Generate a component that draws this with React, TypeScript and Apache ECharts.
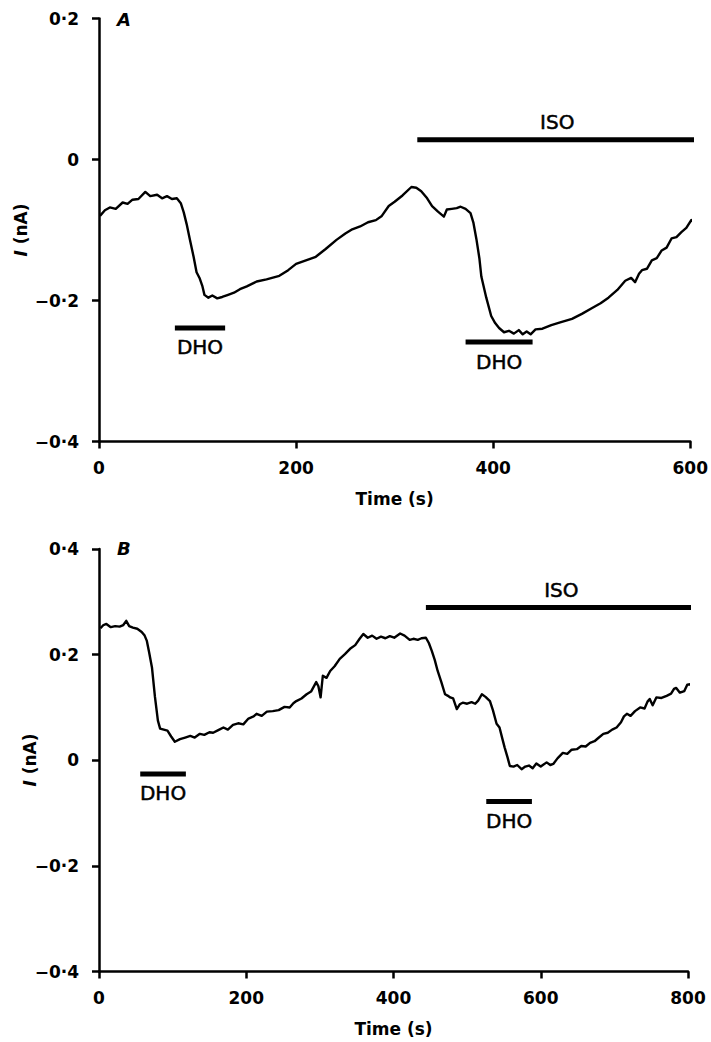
import React, { useEffect, useRef } from "react";
import * as echarts from "echarts";

// ---------- Panel A data ----------
const timeA = [1, 6, 11, 17, 24, 29, 34, 40, 47, 52, 59, 64, 69, 74, 79, 83, 86, 89, 92, 96, 99, 102, 105, 107, 111, 115, 120, 125, 131, 137, 143, 150, 160, 170, 183, 192, 200, 210, 220, 230, 241, 250, 257, 265, 273, 281, 287, 294, 300, 308, 317, 322, 327, 333, 338, 344, 350, 353, 358, 363, 367, 372, 377, 380, 383, 386, 388, 393, 398, 402, 406, 411, 416, 421, 426, 430, 434, 438, 443, 450, 459, 468, 480, 490, 500, 509, 517, 526, 534, 540, 544, 548, 551, 556, 561, 566, 571, 576, 581, 586, 591, 596, 601, 605, 607];
const currentA = [-0.080, -0.072, -0.068, -0.070, -0.061, -0.063, -0.057, -0.056, -0.046, -0.052, -0.050, -0.055, -0.052, -0.056, -0.055, -0.062, -0.075, -0.092, -0.112, -0.138, -0.160, -0.168, -0.180, -0.192, -0.196, -0.193, -0.197, -0.195, -0.192, -0.189, -0.184, -0.180, -0.173, -0.170, -0.165, -0.157, -0.148, -0.143, -0.138, -0.127, -0.114, -0.105, -0.099, -0.095, -0.089, -0.086, -0.080, -0.066, -0.060, -0.051, -0.039, -0.040, -0.045, -0.055, -0.066, -0.074, -0.081, -0.071, -0.070, -0.069, -0.067, -0.070, -0.076, -0.090, -0.113, -0.140, -0.166, -0.196, -0.222, -0.232, -0.239, -0.245, -0.243, -0.247, -0.242, -0.248, -0.244, -0.248, -0.241, -0.240, -0.235, -0.231, -0.226, -0.219, -0.211, -0.204, -0.196, -0.185, -0.172, -0.168, -0.174, -0.162, -0.157, -0.155, -0.143, -0.140, -0.129, -0.125, -0.112, -0.110, -0.103, -0.097, -0.086, -0.090, -0.086];
// bars: [start, end, level]
const dhoBarsA = [[77, 128, -0.239], [372, 440, -0.259]];
const isoBarA = [323, 607, 0.028];

// ---------- Panel B data ----------
const timeB = [2, 6, 10, 16, 22, 28, 33, 37, 41, 46, 52, 58, 62, 65, 68, 72, 76, 80, 83, 88, 93, 98, 103, 110, 117, 124, 130, 137, 143, 150, 155, 162, 169, 175, 182, 189, 196, 203, 210, 214, 221, 228, 236, 244, 252, 259, 264, 268, 275, 282, 288, 295, 298, 301, 304, 309, 314, 320, 327, 334, 341, 348, 354, 359, 365, 371, 377, 383, 389, 395, 401, 409, 415, 422, 427, 433, 438, 444, 448, 452, 456, 460, 465, 470, 474, 477, 481, 486, 490, 494, 500, 506, 511, 515, 520, 525, 531, 535, 540, 544, 548, 551, 555, 558, 563, 568, 574, 579, 584, 589, 594, 600, 608, 613, 617, 623, 630, 636, 642, 649, 655, 661, 667, 673, 679, 685, 691, 697, 703, 709, 713, 717, 722, 728, 735, 741, 745, 748, 752, 757, 764, 771, 777, 781, 784, 789, 795, 799, 803, 807, 812, 816];
const currentB = [0.250, 0.256, 0.258, 0.252, 0.254, 0.253, 0.256, 0.264, 0.254, 0.251, 0.249, 0.243, 0.236, 0.226, 0.205, 0.175, 0.120, 0.075, 0.060, 0.058, 0.056, 0.045, 0.035, 0.040, 0.043, 0.046, 0.043, 0.050, 0.048, 0.053, 0.052, 0.057, 0.062, 0.058, 0.067, 0.070, 0.068, 0.079, 0.083, 0.088, 0.084, 0.092, 0.093, 0.095, 0.101, 0.100, 0.108, 0.112, 0.117, 0.125, 0.130, 0.148, 0.140, 0.119, 0.160, 0.156, 0.169, 0.178, 0.192, 0.201, 0.211, 0.218, 0.230, 0.239, 0.232, 0.236, 0.230, 0.234, 0.231, 0.235, 0.232, 0.240, 0.236, 0.228, 0.230, 0.228, 0.231, 0.232, 0.222, 0.207, 0.190, 0.169, 0.148, 0.125, 0.122, 0.119, 0.117, 0.097, 0.106, 0.109, 0.107, 0.110, 0.107, 0.113, 0.125, 0.120, 0.112, 0.095, 0.069, 0.062, 0.040, 0.024, 0.005, -0.011, -0.012, -0.009, -0.017, -0.012, -0.010, -0.015, -0.006, -0.012, -0.004, -0.009, -0.007, 0.004, 0.014, 0.012, 0.020, 0.021, 0.027, 0.026, 0.033, 0.036, 0.043, 0.050, 0.052, 0.058, 0.062, 0.072, 0.083, 0.088, 0.084, 0.093, 0.100, 0.098, 0.111, 0.116, 0.104, 0.119, 0.118, 0.122, 0.126, 0.135, 0.137, 0.128, 0.131, 0.143, 0.144, 0.136, 0.144, 0.141];
const dhoBarsB = [[56, 118, -0.026], [526, 588, -0.078]];
const isoBarB = [444, 812, 0.289];

// ---------- axis ticks [min, max, interval] ----------
const xTicksA = [0, 600, 200];
const xTicksB = [0, 800, 200];
const yTicksA = [-0.4, 0.2, 0.2];
const yTicksB = [-0.4, 0.4, 0.2];

const FONT = "DejaVu Sans";

const fmtY = (v: number) => {
  if (Math.abs(v) < 1e-9) return "0";
  const s = Math.abs(v).toFixed(1).replace(".", "\u00B7");
  return (v < 0 ? "\u2212" : "") + s;
};

const axisLineStyle = { color: "#000", width: 2.5 };

function makeX(idx: number, ticks: number[]) {
  return {
    type: "value",
    gridIndex: idx,
    min: ticks[0],
    max: ticks[1],
    interval: ticks[2],
    name: "Time (s)",
    nameLocation: "middle",
    nameGap: 49,
    nameTextStyle: { fontFamily: FONT, fontSize: 17, fontWeight: "bold", color: "#000" },
    axisLine: { show: true, onZero: false, lineStyle: axisLineStyle },
    axisTick: { show: true, inside: false, length: 7, lineStyle: axisLineStyle },
    axisLabel: { fontFamily: FONT, fontSize: 17, fontWeight: "bold", color: "#000", margin: 18 },
    splitLine: { show: false },
  };
}

function makeY(idx: number, ticks: number[]) {
  return {
    type: "value",
    gridIndex: idx,
    min: ticks[0],
    max: ticks[1],
    interval: ticks[2],
    axisLine: { show: true, onZero: false, lineStyle: axisLineStyle },
    axisTick: { show: true, inside: false, length: 7, lineStyle: axisLineStyle },
    axisLabel: { fontFamily: FONT, fontSize: 17, fontWeight: "bold", color: "#000", margin: 20, formatter: fmtY },
    splitLine: { show: false },
  };
}

function traceSeries(idx: number, t: number[], c: number[]) {
  return {
    type: "line",
    xAxisIndex: idx,
    yAxisIndex: idx,
    data: t.map((x, i) => [x, c[i]]),
    showSymbol: false,
    symbol: "none",
    clip: false,
    lineStyle: { color: "#000", width: 2.4, join: "round" },
    z: 3,
  };
}

function barSeries(idx: number, bar: number[]) {
  return {
    type: "line",
    xAxisIndex: idx,
    yAxisIndex: idx,
    data: [[bar[0], bar[2]], [bar[1], bar[2]]],
    showSymbol: false,
    symbol: "none",
    clip: false,
    lineStyle: { color: "#000", width: 5, cap: "butt" },
    z: 3,
  };
}

function labelSeries(idx: number, bar: number[], text: string, above: boolean) {
  return {
    type: "scatter",
    xAxisIndex: idx,
    yAxisIndex: idx,
    symbolSize: 1,
    itemStyle: { color: "#fff", opacity: 1 },
    clip: false,
    data: [{ name: text, value: [(bar[0] + bar[1]) / 2, bar[2]] }],
    label: {
      show: true,
      formatter: "{b}",
      position: above ? "top" : "bottom",
      distance: above ? 7 : 9,
      fontFamily: FONT,
      fontSize: 20,
      color: "#000",
      textBorderColor: "#000",
      textBorderWidth: 0.5,
    },
    z: 1,
  };
}

const yNameStyle = {
  text: "{i|I} (nA)",
  fontFamily: FONT,
  fontSize: 17,
  fontWeight: "bold",
  fill: "#000",
  textAlign: "center",
  textVerticalAlign: "middle",
  rich: { i: { fontFamily: FONT, fontSize: 17, fontWeight: "bold", fontStyle: "italic", fill: "#000" } },
};

export default function App() {
  const ref = useRef<HTMLDivElement>(null);
  useEffect(() => {
    document.body.style.margin = "0";
    if (!ref.current) return;
    const chart = echarts.init(ref.current, undefined, { renderer: "svg" });
    const series: any[] = [
      traceSeries(0, timeA, currentA),
      ...dhoBarsA.map((b) => barSeries(0, b)),
      barSeries(0, isoBarA),
      ...dhoBarsA.map((b) => labelSeries(0, b, "DHO", false)),
      labelSeries(0, isoBarA, "ISO", true),
      traceSeries(1, timeB, currentB),
      ...dhoBarsB.map((b) => barSeries(1, b)),
      barSeries(1, isoBarB),
      ...dhoBarsB.map((b) => labelSeries(1, b, "DHO", false)),
      labelSeries(1, isoBarB, "ISO", true),
    ];
    chart.setOption({
      animation: false,
      backgroundColor: "#fff",
      grid: [
        { left: 99, top: 18.5, width: 593, height: 423 },
        { left: 99, top: 549, width: 589, height: 422.5 },
      ],
      xAxis: [makeX(0, xTicksA), makeX(1, xTicksB)],
      yAxis: [makeY(0, yTicksA), makeY(1, yTicksB)],
      graphic: [
        { type: "text", left: 117, top: 10, style: { text: "A", font: `italic bold 18px "${FONT}"`, fill: "#000" } },
        { type: "text", left: 117, top: 539, style: { text: "B", font: `italic bold 18px "${FONT}"`, fill: "#000" } },
        { type: "text", x: 21, y: 230, rotation: Math.PI / 2, style: yNameStyle },
        { type: "text", x: 30, y: 760, rotation: Math.PI / 2, style: yNameStyle },
      ],
      series,
    });
    return () => chart.dispose();
  }, []);
  return <div ref={ref} style={{ width: 711, height: 1042 }} />;
}
